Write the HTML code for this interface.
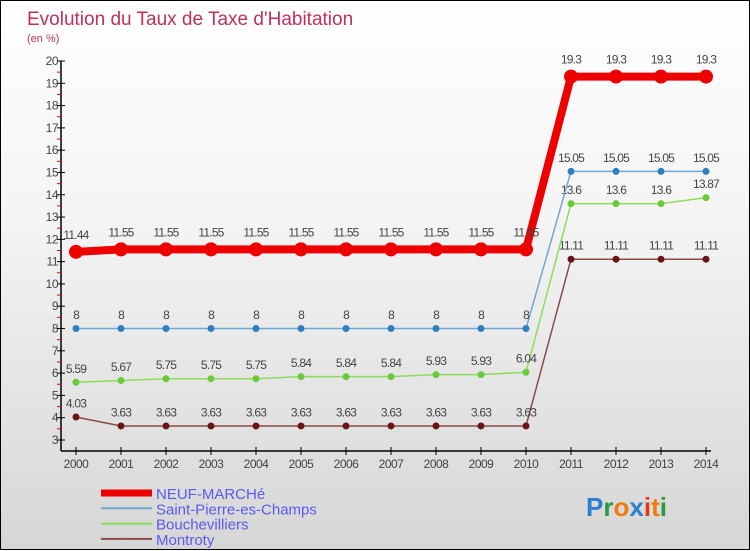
<!DOCTYPE html>
<html><head><meta charset="utf-8"><style>
html,body{margin:0;padding:0}
body{width:750px;height:550px;overflow:hidden;font-family:"Liberation Sans",sans-serif}
#wrap{position:relative;width:748px;height:548px;border:1px solid #000;background:linear-gradient(#fff 0%,#f4f4f4 40%,#d6d6d6 100%)}
svg{position:absolute;left:0;top:0}
</style></head><body>
<div id="wrap">
<svg id="chart" width="750" height="550">
<text x="26" y="24" font-size="19" fill="#c0305a">Evolution du Taux de Taxe d'Habitation</text>
<text x="26" y="41" font-size="11" fill="#c0305a">(en %)</text>
</svg>
</div>
<script>
const years=[2000,2001,2002,2003,2004,2005,2006,2007,2008,2009,2010,2011,2012,2013,2014];
const neufMarche=[11.44,11.55,11.55,11.55,11.55,11.55,11.55,11.55,11.55,11.55,11.55,19.3,19.3,19.3,19.3];
const saintPierre=[8,8,8,8,8,8,8,8,8,8,8,15.05,15.05,15.05,15.05];
const bouchevilliers=[5.59,5.67,5.75,5.75,5.75,5.84,5.84,5.84,5.93,5.93,6.04,13.6,13.6,13.6,13.87];
const montroty=[4.03,3.63,3.63,3.63,3.63,3.63,3.63,3.63,3.63,3.63,3.63,11.11,11.11,11.11,11.11];
const yTicks=[3,4,5,6,7,8,9,10,11,12,13,14,15,16,17,18,19,20];
const NS='http://www.w3.org/2000/svg';
const svg=document.getElementById('chart');
const X=i=>75+i*45;
const Y=v=>439-(v-3)*(379/17);
function mk(t,a,p){const e=document.createElementNS(NS,t);for(const k in a)e.setAttribute(k,a[k]);(p||svg).appendChild(e);return e;}
let ax=mk('line',{x1:60,y1:60,x2:60,y2:450,stroke:'#000','stroke-width':1.5});


let xa=mk('line',{x1:60,y1:450,x2:710,y2:450,stroke:'#000','stroke-width':1.5});


yTicks.forEach(v=>{
  mk('line',{x1:56,y1:Y(v),x2:64,y2:Y(v),stroke:'#000'});
  if(v<20)mk('line',{x1:56,y1:Y(v+0.5),x2:60,y2:Y(v+0.5),stroke:'#e00'});
  const t=mk('text',{x:57,y:Y(v)+4,'font-size':12,fill:'#444','text-anchor':'end','letter-spacing':'-0.5'});
  t.textContent=v;
  
  
});
years.forEach((y,i)=>{
  mk('line',{x1:X(i),y1:446,x2:X(i),y2:454,stroke:'#000'});
  const t=mk('text',{x:X(i),y:467,'font-size':12,fill:'#444','text-anchor':'middle','letter-spacing':'-0.5'});
  t.textContent=y;
  
  
});
function series(data,color,w,r,dot,name){
  const g=mk('g',{});
  
  
  mk('polyline',{points:data.map((v,i)=>X(i)+','+Y(v)).join(' '),fill:'none',stroke:color,'stroke-width':w,'stroke-linejoin':'round'},g);
  data.forEach((v,i)=>{
    const c=mk('circle',{cx:X(i),cy:Y(v),r:r,fill:dot},g);
    
    
    const t=mk('text',{x:X(i),y:Y(v)-(r+6),'font-size':12,fill:'#444','text-anchor':'middle','letter-spacing':'-0.8'},g);
    t.textContent=String(v);
    
    
  });
}
series(montroty,'#8b4a4a',1.5,3.5,'#6a1515','montroty');
series(bouchevilliers,'#8fdc5a',1.5,3.5,'#6cc93a','bouchevilliers');
series(saintPierre,'#6fa8d0',1.5,3.5,'#2f7fc0','saint-pierre');
series(neufMarche,'#ee0000',8,7,'#ee0000','neuf-marche');
const leg=[['NEUF-MARCHé','#ee0000',7],['Saint-Pierre-es-Champs','#6fa8d0',2],['Bouchevilliers','#8fdc5a',2],['Montroty','#8b4a4a',2]];
leg.forEach((l,i)=>{
  const y=492+i*15.3;
  const g=mk('g',{});
  
  
  mk('line',{x1:100,y1:y,x2:151,y2:y,stroke:l[1],'stroke-width':l[2]},g);
  const t=mk('text',{x:155,y:y+6,'font-size':15,fill:'#5a5af0'},g);
  t.textContent=l[0];
});
const logo=mk('text',{x:585,y:515,'font-size':26,'font-weight':'bold'});


[['P','#2a7fd0'],['r','#2a9a3a'],['o','#f07a10'],['x','#2a7fd0'],['i','#e03a10'],['t','#f07a10'],['i','#2a9a3a']].forEach(p=>{const s=mk('tspan',{fill:p[1]},logo);s.textContent=p[0];});
</script>
</body></html>
